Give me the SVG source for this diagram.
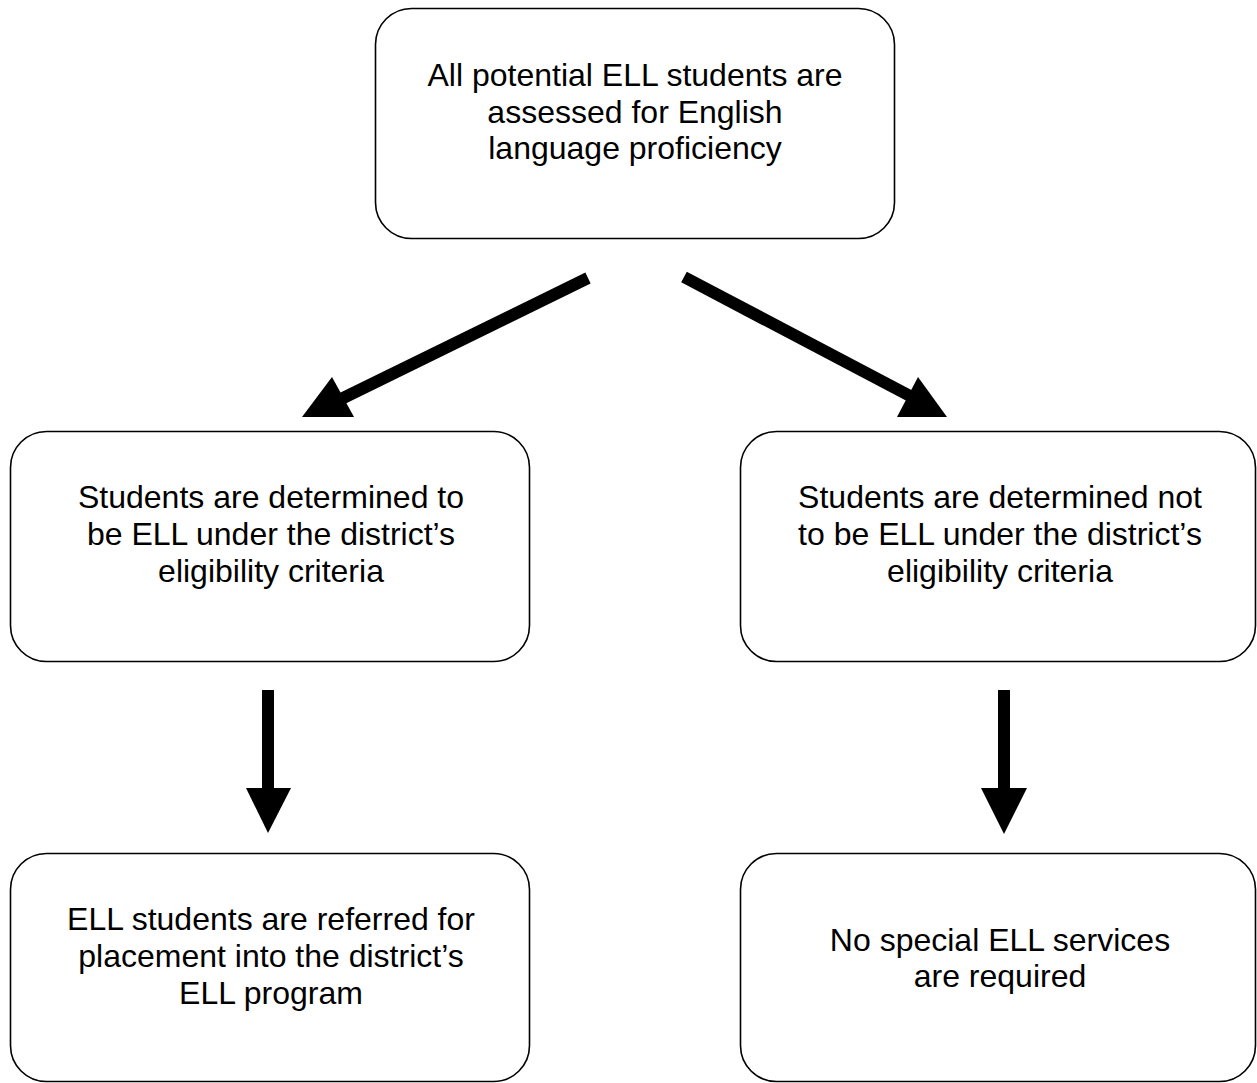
<svg xmlns="http://www.w3.org/2000/svg" width="1257" height="1083" viewBox="0 0 1257 1083">
<style>
.box{fill:#fff;stroke:#000;stroke-width:1.6}
.t{font-family:"Liberation Sans",Arial,sans-serif;font-size:32px;fill:#000;text-anchor:middle}
.shaft{stroke:#000;stroke-width:12;fill:none}
.head{fill:#000}
</style>
<rect width="1257" height="1083" fill="#fff"/>
<g id="n1">
<rect class="box" x="375.5" y="8.5" width="519" height="230" rx="36"/>
<text class="t" x="635" y="86">All potential ELL students are</text>
<text class="t" x="635" y="122.5">assessed for English</text>
<text class="t" x="635" y="159">language proficiency</text>
</g>
<g id="n2">
<rect class="box" x="10.5" y="431.5" width="519" height="230" rx="36"/>
<text class="t" x="271" y="508">Students are determined to</text>
<text class="t" x="271" y="545">be ELL under the district’s</text>
<text class="t" x="271" y="581.5">eligibility criteria</text>
</g>
<g id="n3">
<rect class="box" x="740.5" y="431.5" width="515" height="230" rx="36"/>
<text class="t" x="1000" y="508">Students are determined not</text>
<text class="t" x="1000" y="545">to be ELL under the district’s</text>
<text class="t" x="1000" y="581.5">eligibility criteria</text>
</g>
<g id="n4">
<rect class="box" x="10.5" y="853.5" width="519" height="228" rx="36"/>
<text class="t" x="271" y="930">ELL students are referred for</text>
<text class="t" x="271" y="967">placement into the district’s</text>
<text class="t" x="271" y="1003.5">ELL program</text>
</g>
<g id="n5">
<rect class="box" x="740.5" y="853.5" width="515" height="228" rx="36"/>
<text class="t" x="1000" y="951">No special ELL services</text>
<text class="t" x="1000" y="987">are required</text>
</g>
<g id="connectors">
<line class="shaft" x1="588" y1="278" x2="335" y2="402"/>
<polygon class="head" points="302,417 332,377 354,417"/>
<line class="shaft" x1="684" y1="277" x2="912" y2="397"/>
<polygon class="head" points="918,377 897,417 947,417"/>
<line class="shaft" x1="268" y1="690" x2="268" y2="790"/>
<polygon class="head" points="246,788 291,788 268,833"/>
<line class="shaft" x1="1004" y1="690" x2="1004" y2="790"/>
<polygon class="head" points="981,788 1027,788 1004,834"/>
</g>
</svg>
